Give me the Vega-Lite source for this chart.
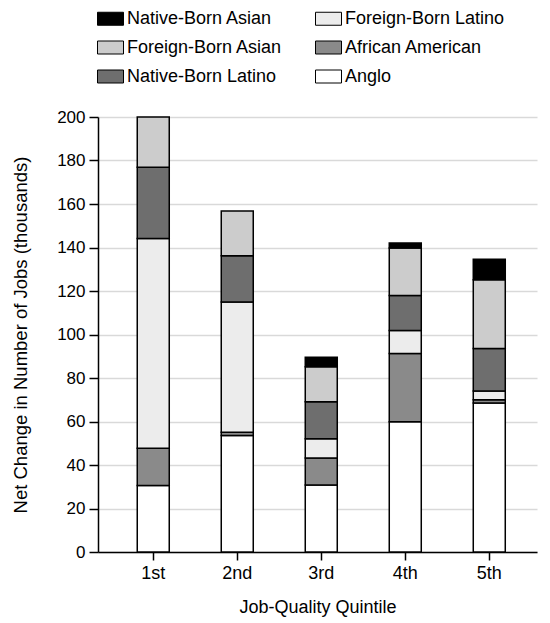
{
  "$schema": "https://vega.github.io/schema/vega-lite/v6.json",
  "autosize": {"type": "none"},
  "padding": {"left": 98, "top": 117, "right": 13, "bottom": 71},
  "width": 439,
  "height": 435,
  "background": "white",
  "config": {
    "font": "Liberation Sans",
    "view": {"stroke": null},
    "axis": {"labelColor": "black", "titleColor": "black", "titleFontWeight": "normal", "labelFontSize": 17, "titleFontSize": 18, "domainColor": "black", "tickColor": "black", "domainWidth": 1.5, "tickWidth": 1.5}
  },
  "data": {
    "values": [
      {"quintile": "1st", "group": "Anglo", "value": 30.6},
      {"quintile": "1st", "group": "African American", "value": 17.1},
      {"quintile": "1st", "group": "Foreign-Born Latino", "value": 96.4},
      {"quintile": "1st", "group": "Native-Born Latino", "value": 32.8},
      {"quintile": "1st", "group": "Foreign-Born Asian", "value": 23.1},
      {"quintile": "1st", "group": "Native-Born Asian", "value": 0},
      {"quintile": "2nd", "group": "Anglo", "value": 53.6},
      {"quintile": "2nd", "group": "African American", "value": 1.5},
      {"quintile": "2nd", "group": "Foreign-Born Latino", "value": 59.8},
      {"quintile": "2nd", "group": "Native-Born Latino", "value": 21.3},
      {"quintile": "2nd", "group": "Foreign-Born Asian", "value": 20.6},
      {"quintile": "2nd", "group": "Native-Born Asian", "value": 0},
      {"quintile": "3rd", "group": "Anglo", "value": 30.8},
      {"quintile": "3rd", "group": "African American", "value": 12.4},
      {"quintile": "3rd", "group": "Foreign-Born Latino", "value": 8.9},
      {"quintile": "3rd", "group": "Native-Born Latino", "value": 17.0},
      {"quintile": "3rd", "group": "Foreign-Born Asian", "value": 16.1},
      {"quintile": "3rd", "group": "Native-Born Asian", "value": 4.3},
      {"quintile": "4th", "group": "Anglo", "value": 59.9},
      {"quintile": "4th", "group": "African American", "value": 31.4},
      {"quintile": "4th", "group": "Foreign-Born Latino", "value": 10.5},
      {"quintile": "4th", "group": "Native-Born Latino", "value": 16.1},
      {"quintile": "4th", "group": "Foreign-Born Asian", "value": 21.9},
      {"quintile": "4th", "group": "Native-Born Asian", "value": 2.3},
      {"quintile": "5th", "group": "Anglo", "value": 68.5},
      {"quintile": "5th", "group": "African American", "value": 1.5},
      {"quintile": "5th", "group": "Foreign-Born Latino", "value": 4.0},
      {"quintile": "5th", "group": "Native-Born Latino", "value": 19.6},
      {"quintile": "5th", "group": "Foreign-Born Asian", "value": 31.6},
      {"quintile": "5th", "group": "Native-Born Asian", "value": 9.4}
    ]
  },
  "transform": [
    {"calculate": "indexof(['Anglo','African American','Foreign-Born Latino','Native-Born Latino','Foreign-Born Asian','Native-Born Asian'], datum.group)", "as": "stackOrder"},
    {"filter": "datum.value > 0"}
  ],
  "mark": {"type": "bar", "stroke": "black", "strokeWidth": 1.5},
  "encoding": {
    "x": {
      "field": "quintile", "type": "nominal",
      "scale": {"paddingInner": 0.619, "paddingOuter": 0.4225, "align": 0.553},
      "axis": {"title": "Job-Quality Quintile", "labelAngle": 0, "labelFontSize": 18, "tickSize": 8, "labelPadding": 4, "titlePadding": 16, "grid": false}
    },
    "y": {
      "field": "value", "type": "quantitative", "aggregate": "sum", "stack": "zero",
      "scale": {"domain": [0, 200], "nice": false},
      "axis": {"title": "Net Change in Number of Jobs (thousands)", "values": [0,20,40,60,80,100,120,140,160,180,200], "tickSize": 9, "labelPadding": 4, "gridColor": "#d9d9d9", "gridWidth": 1.5, "titlePadding": 26, "titleFontSize": 18.5}
    },
    "fill": {
      "field": "group", "type": "nominal",
      "scale": {
        "domain": ["Native-Born Asian", "Foreign-Born Latino", "Foreign-Born Asian", "African American", "Native-Born Latino", "Anglo"],
        "range": ["#000000", "#ececec", "#cccccc", "#8a8a8a", "#6e6e6e", "#ffffff"]
      },
      "legend": {
        "title": null, "orient": "none", "legendX": -1, "legendY": -112, "columns": 2, "direction": "horizontal",
        "symbolType": "M-1,-0.5H1V0.5H-1Z", "symbolSize": 676, "symbolStrokeColor": "black", "symbolStrokeWidth": 1, "symbolOpacity": 1,
        "labelFontSize": 18, "labelColor": "black", "labelOffset": 3, "rowPadding": 6, "columnPadding": 30, "labelLimit": 300
      }
    },
    "order": {"field": "stackOrder", "type": "quantitative", "sort": "ascending"}
  }
}
